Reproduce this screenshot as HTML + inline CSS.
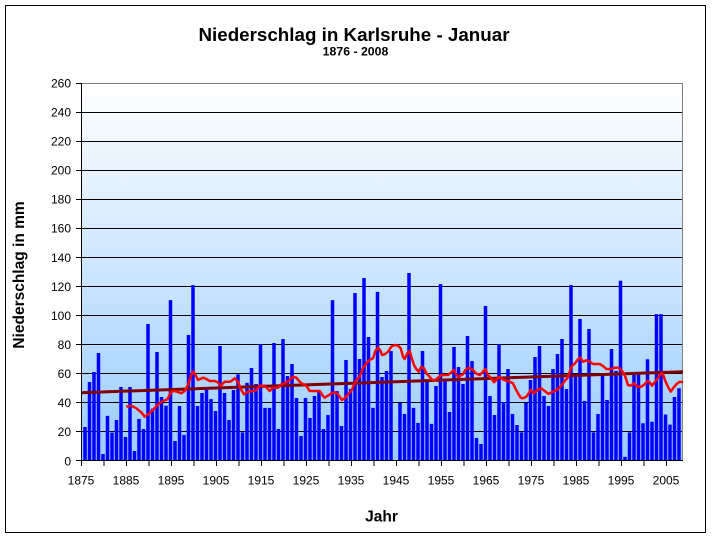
<!DOCTYPE html>
<html>
<head>
<meta charset="utf-8">
<style>
html,body{margin:0;padding:0;background:#fff;}
svg{display:block;}
text{font-family:"Liberation Sans",Arial,sans-serif;}
</style>
</head>
<body>
<svg width="712" height="538" viewBox="0 0 712 538" xmlns="http://www.w3.org/2000/svg">
<defs>
<linearGradient id="bg" x1="0" y1="0" x2="0" y2="1">
<stop offset="0" stop-color="#ffffff"/>
<stop offset="1" stop-color="#99ccff"/>
</linearGradient>
</defs>
<rect x="0" y="0" width="712" height="538" fill="#fff"/>
<rect x="5.5" y="5.5" width="700" height="527" fill="#fff" stroke="#000" stroke-width="1"/>
<rect x="81" y="83" width="602" height="378" fill="url(#bg)"/>
<path stroke="#000" stroke-width="1" shape-rendering="crispEdges" fill="none" d="M76 431.5H683M76 402.5H683M76 373.5H683M76 344.5H683M76 315.5H683M76 286.5H683M76 257.5H683M76 228.5H683M76 199.5H683M76 170.5H683M76 141.5H683M76 112.5H683M76 460.5H81M76 83.5H81"/>
<polyline points="81,83.5 682.5,83.5 682.5,461" stroke="#808080" stroke-width="1" fill="none" shape-rendering="crispEdges"/>
<path fill="#0000ff" transform="matrix(4.5 0 0 -1.4538 78.75 461)" d="M1 0h.7778v23.4h-.7778zM2 0h.7778v54.3h-.7778zM3 0h.7778v61.2h-.7778zM4 0h.7778v74.3h-.7778zM5 0h.7778v4.8h-.7778zM6 0h.7778v31h-.7778zM7 0h.7778v19.5h-.7778zM8 0h.7778v28.2h-.7778zM9 0h.7778v50.9h-.7778zM10 0h.7778v16.5h-.7778zM11 0h.7778v50.9h-.7778zM12 0h.7778v6.9h-.7778zM13 0h.7778v28.9h-.7778zM14 0h.7778v22h-.7778zM15 0h.7778v94.2h-.7778zM16 0h.7778v36h-.7778zM17 0h.7778v75h-.7778zM18 0h.7778v44h-.7778zM19 0h.7778v38h-.7778zM20 0h.7778v110.7h-.7778zM21 0h.7778v13.8h-.7778zM22 0h.7778v37.8h-.7778zM23 0h.7778v17.9h-.7778zM24 0h.7778v86.7h-.7778zM25 0h.7778v121h-.7778zM26 0h.7778v37.8h-.7778zM27 0h.7778v46.8h-.7778zM28 0h.7778v49.5h-.7778zM29 0h.7778v42.6h-.7778zM30 0h.7778v34.4h-.7778zM31 0h.7778v79.1h-.7778zM32 0h.7778v46.8h-.7778zM33 0h.7778v28.2h-.7778zM34 0h.7778v48.8h-.7778zM35 0h.7778v59.6h-.7778zM36 0h.7778v19.7h-.7778zM37 0h.7778v53.7h-.7778zM38 0h.7778v64h-.7778zM39 0h.7778v53h-.7778zM40 0h.7778v80.2h-.7778zM41 0h.7778v36.5h-.7778zM42 0h.7778v36.5h-.7778zM43 0h.7778v81.2h-.7778zM44 0h.7778v22h-.7778zM45 0h.7778v83.9h-.7778zM46 0h.7778v58.5h-.7778zM47 0h.7778v66.7h-.7778zM48 0h.7778v43.3h-.7778zM49 0h.7778v17.2h-.7778zM50 0h.7778v43.3h-.7778zM51 0h.7778v29.6h-.7778zM52 0h.7778v44.7h-.7778zM53 0h.7778v47.5h-.7778zM54 0h.7778v22h-.7778zM55 0h.7778v31.6h-.7778zM56 0h.7778v110.7h-.7778zM57 0h.7778v48.1h-.7778zM58 0h.7778v24.1h-.7778zM59 0h.7778v69.5h-.7778zM60 0h.7778v49.5h-.7778zM61 0h.7778v115.6h-.7778zM62 0h.7778v70.2h-.7778zM63 0h.7778v125.9h-.7778zM64 0h.7778v85.3h-.7778zM65 0h.7778v36.5h-.7778zM66 0h.7778v116.3h-.7778zM67 0h.7778v57.8h-.7778zM68 0h.7778v61.9h-.7778zM69 0h.7778v75.7h-.7778zM71 0h.7778v39.9h-.7778zM72 0h.7778v32.3h-.7778zM73 0h.7778v129.3h-.7778zM74 0h.7778v36.5h-.7778zM75 0h.7778v26.1h-.7778zM76 0h.7778v75.7h-.7778zM77 0h.7778v55h-.7778zM78 0h.7778v25.5h-.7778zM79 0h.7778v51.6h-.7778zM80 0h.7778v121.7h-.7778zM81 0h.7778v55.7h-.7778zM82 0h.7778v33.7h-.7778zM83 0h.7778v78.4h-.7778zM84 0h.7778v64.7h-.7778zM85 0h.7778v53h-.7778zM86 0h.7778v86h-.7778zM87 0h.7778v68.8h-.7778zM88 0h.7778v15.8h-.7778zM89 0h.7778v11.7h-.7778zM90 0h.7778v106.6h-.7778zM91 0h.7778v44.7h-.7778zM92 0h.7778v31.6h-.7778zM93 0h.7778v80.2h-.7778zM94 0h.7778v40.6h-.7778zM95 0h.7778v63.3h-.7778zM96 0h.7778v32.3h-.7778zM97 0h.7778v24.8h-.7778zM98 0h.7778v19.7h-.7778zM99 0h.7778v39.9h-.7778zM100 0h.7778v55.7h-.7778zM101 0h.7778v71.5h-.7778zM102 0h.7778v79.1h-.7778zM103 0h.7778v44.7h-.7778zM104 0h.7778v37.8h-.7778zM105 0h.7778v63.3h-.7778zM106 0h.7778v73.6h-.7778zM107 0h.7778v83.9h-.7778zM108 0h.7778v49.5h-.7778zM109 0h.7778v121h-.7778zM110 0h.7778v59.2h-.7778zM111 0h.7778v97.7h-.7778zM112 0h.7778v41.3h-.7778zM113 0h.7778v90.8h-.7778zM114 0h.7778v19.7h-.7778zM115 0h.7778v32.3h-.7778zM116 0h.7778v59h-.7778zM117 0h.7778v42h-.7778zM118 0h.7778v77h-.7778zM119 0h.7778v62h-.7778zM120 0h.7778v124h-.7778zM121 0h.7778v2.8h-.7778zM122 0h.7778v19.7h-.7778zM123 0h.7778v61h-.7778zM124 0h.7778v61h-.7778zM125 0h.7778v26h-.7778zM126 0h.7778v70h-.7778zM127 0h.7778v27h-.7778zM128 0h.7778v101h-.7778zM129 0h.7778v101h-.7778zM130 0h.7778v32h-.7778zM131 0h.7778v25h-.7778zM132 0h.7778v44h-.7778zM133 0h.7778v50h-.7778z"/>
<line x1="81" y1="392.7" x2="683" y2="371.7" stroke="#800000" stroke-width="3"/>
<polyline fill="none" stroke="#ff0000" stroke-width="2.5" stroke-linejoin="round" points="126.3,406.7 131.3,405.7 136.3,408.3 141.3,412.3 144.7,416.7 148,414.3 153,410 158,404.3 163,401 167.3,399.3 171.3,391.7 174.7,391 178,392 181.3,393.3 184.7,391 188,385 191.3,375 193,371.7 194.7,373.3 198,380 203,377.7 206.3,379 209.7,381 214.7,381 218,382.3 220.7,385.7 224.7,381.7 229.7,381.7 231.3,381 234.7,378.3 238,381.7 241.3,390 244,394.3 248,391.7 253,391 256.3,390 259.7,385.7 264.7,385.7 269.7,391 273,387.7 278,387.7 281.3,384.3 284.7,383.3 289.7,380 293,376.7 296.3,377.7 299.7,381.7 303,384.3 306.3,385.7 309.7,391 314.7,391 319.7,391 323,396 324.7,397.7 328,395.7 331.3,393.3 334.7,392.3 338,394.3 342,400 344.7,398.3 347.3,395 351.3,391 354,385 356.3,380 359.7,376.7 363,368.3 366.3,363.3 369.7,360 373,358.3 375.3,351 378,347.7 380.7,351 382,355 384.7,354.3 388,351.7 391.3,346.7 394.7,345 398,345.7 400.7,348.3 403,356.7 404.7,359 407.3,353.3 409.7,351 411.3,356.7 414,365 416.3,369 418.7,371.7 421.3,366.7 424,368.3 426.3,373.3 429.7,376.7 432,379.7 435.3,380.3 438,377.7 441.3,375 448,375 451.3,372.3 454,370 456.3,375 458.7,376.7 463,374.3 465.3,370 468.7,367.7 473,370 476.3,373.7 479.7,375 483,371.7 485.3,369 488,375 491.3,378.3 494,382.3 496.3,380 498.7,376.7 501.3,378.3 504.7,380.3 509.7,381.7 513,383.3 515.3,388.3 518,393.3 520.7,397.7 523,398.3 526.3,396.7 528.7,393.3 530.7,390 534,393.3 537.3,390 541.3,388.3 544.7,391 548.7,394 551.3,392.3 554.7,391 558,389 561.3,385.7 564.7,381 567.3,378.3 569.7,371.7 572,365.7 574.7,363.7 578,359.3 580.3,357.7 583,361.7 586.3,360.3 589.7,361.7 593,364 599.7,364 603,366 606.3,369 611.3,369 614.7,367.7 618,367.7 621.3,370 624.7,375 628,385 630.7,385.7 634,383.3 637.3,386.7 641.3,386.7 644.7,384.3 647.3,381 649.7,382.3 652,385.7 654.7,382.3 658,377.7 661.3,373.3 663,374.3 665.3,381 668,386.7 670.7,391.7 673,388.3 676.3,384.3 679.7,381.7 683,382.3"/>
<path stroke="#000" stroke-width="1" shape-rendering="crispEdges" fill="none" d="M81.5 83V461M81 460.5H683M81.5 461v5M104 461v5M126.5 461v5M149 461v5M171.5 461v5M194 461v5M216.5 461v5M239 461v5M261.5 461v5M284 461v5M306.5 461v5M329 461v5M351.5 461v5M374 461v5M396.5 461v5M419 461v5M441.5 461v5M464 461v5M486.5 461v5M509 461v5M531.5 461v5M554 461v5M576.5 461v5M599 461v5M621.5 461v5M644 461v5M666.5 461v5"/>
<g font-size="12" text-anchor="end" fill="#000">
<text x="71" y="465.3">0</text>
<text x="71" y="436.2">20</text>
<text x="71" y="407.1">40</text>
<text x="71" y="378.1">60</text>
<text x="71" y="349">80</text>
<text x="71" y="319.9">100</text>
<text x="71" y="290.8">120</text>
<text x="71" y="261.8">140</text>
<text x="71" y="232.7">160</text>
<text x="71" y="203.6">180</text>
<text x="71" y="174.5">200</text>
<text x="71" y="145.5">220</text>
<text x="71" y="116.4">240</text>
<text x="71" y="87.3">260</text>
</g>
<g font-size="12" text-anchor="middle" fill="#000">
<text x="81" y="484.5">1875</text>
<text x="126" y="484.5">1885</text>
<text x="171" y="484.5">1895</text>
<text x="216" y="484.5">1905</text>
<text x="261" y="484.5">1915</text>
<text x="306" y="484.5">1925</text>
<text x="351" y="484.5">1935</text>
<text x="396" y="484.5">1945</text>
<text x="441" y="484.5">1955</text>
<text x="486" y="484.5">1965</text>
<text x="531" y="484.5">1975</text>
<text x="576" y="484.5">1985</text>
<text x="621" y="484.5">1995</text>
<text x="666" y="484.5">2005</text>
</g>
<text x="354" y="41" font-size="18.8" font-weight="bold" text-anchor="middle" fill="#000">Niederschlag in Karlsruhe - Januar</text>
<text x="355.5" y="55.7" font-size="12.3" font-weight="bold" text-anchor="middle" fill="#000">1876 - 2008</text>
<text x="381.5" y="521.7" font-size="15.5" font-weight="bold" text-anchor="middle" fill="#000">Jahr</text>
<text transform="translate(24,275) rotate(-90)" font-size="15.5" font-weight="bold" text-anchor="middle" fill="#000">Niederschlag in mm</text>
</svg>
</body>
</html>
